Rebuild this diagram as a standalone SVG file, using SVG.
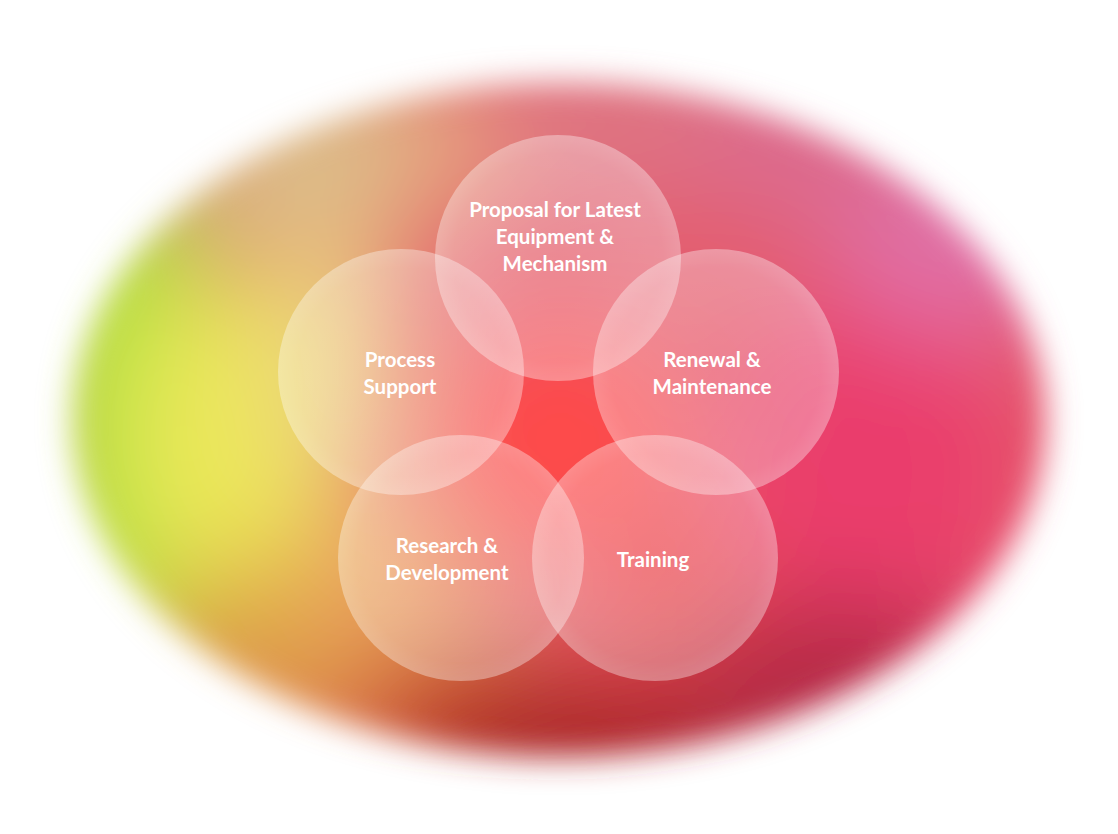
<svg xmlns="http://www.w3.org/2000/svg" width="1118" height="834" viewBox="0 0 1118 834">
  <defs>
    <clipPath id="blobClip">
      <ellipse cx="559" cy="420" rx="487" ry="337"/>
    </clipPath>
    <filter id="edgeBlur" x="-20%" y="-20%" width="140%" height="140%">
      <feGaussianBlur stdDeviation="16"/>
    </filter>
    <filter id="meshBlur" x="-50%" y="-50%" width="200%" height="200%">
      <feGaussianBlur stdDeviation="50"/>
    </filter>
    <radialGradient id="circFill" cx="50%" cy="50%" r="50%">
      <stop offset="0%" stop-color="#ffffff" stop-opacity="0.26"/>
      <stop offset="85%" stop-color="#ffffff" stop-opacity="0.3"/>
      <stop offset="100%" stop-color="#ffffff" stop-opacity="0.36"/>
    </radialGradient>
    <style>
      .venn { fill: url(#circFill); }
      .lbl { font-family: Lato, "Open Sans", "Liberation Sans", sans-serif; font-weight: 700; font-size: 20.5px; fill: #ffffff; text-anchor: middle; }
    </style>
  </defs>

  <rect width="1118" height="834" fill="#ffffff"/>

  <!-- blurred colour field -->
  <g id="background" filter="url(#edgeBlur)">
    <g clip-path="url(#blobClip)">
      <rect x="0" y="0" width="1118" height="834" fill="#e45c6c"/>
      <g filter="url(#meshBlur)">
        <ellipse cx="620" cy="110" rx="200" ry="90" fill="#df7482"/>
        <ellipse cx="320" cy="150" rx="150" ry="100" fill="#dcbc88"/>
        <ellipse cx="450" cy="160" rx="60" ry="60" fill="#e8a07c"/>
        <ellipse cx="120" cy="420" rx="110" ry="260" fill="#aee040"/>
        <ellipse cx="235" cy="440" rx="110" ry="170" fill="#ece858"/>
        <ellipse cx="330" cy="360" rx="70" ry="130" fill="#ecd27c"/>
        <ellipse cx="280" cy="650" rx="130" ry="90" fill="#dea048"/>
        <ellipse cx="400" cy="590" rx="80" ry="90" fill="#eea464"/>
        <ellipse cx="450" cy="700" rx="100" ry="70" fill="#d05a2c"/>
        <ellipse cx="590" cy="750" rx="200" ry="80" fill="#aa2626"/>
        <ellipse cx="560" cy="440" rx="120" ry="110" fill="#ff4848"/>
        <ellipse cx="670" cy="580" rx="90" ry="90" fill="#ec4c50"/>
        <ellipse cx="870" cy="470" rx="140" ry="180" fill="#ea3c6c"/>
        <ellipse cx="950" cy="230" rx="130" ry="110" fill="#e070a6"/>
        <ellipse cx="830" cy="690" rx="160" ry="90" fill="#b42c44"/>
        <ellipse cx="800" cy="150" rx="120" ry="70" fill="#dc6c90"/>
      </g>
    </g>
  </g>

  <g id="node-proposal">
    <circle class="venn" cx="558" cy="258" r="123"/>
    <text class="lbl" x="555" y="217">Proposal for Latest</text>
    <text class="lbl" x="555" y="244">Equipment &amp;</text>
    <text class="lbl" x="555" y="271">Mechanism</text>
  </g>
  <g id="node-process">
    <circle class="venn" cx="401" cy="372" r="123"/>
    <text class="lbl" x="400" y="367">Process</text>
    <text class="lbl" x="400" y="394">Support</text>
  </g>
  <g id="node-renewal">
    <circle class="venn" cx="716" cy="372" r="123"/>
    <text class="lbl" x="712" y="367">Renewal &amp;</text>
    <text class="lbl" x="712" y="394">Maintenance</text>
  </g>
  <g id="node-research">
    <circle class="venn" cx="461" cy="558" r="123"/>
    <text class="lbl" x="447" y="553">Research &amp;</text>
    <text class="lbl" x="447" y="580">Development</text>
  </g>
  <g id="node-training">
    <circle class="venn" cx="655" cy="558" r="123"/>
    <text class="lbl" x="653" y="567">Training</text>
  </g>
  <g id="connectors"/>
</svg>
